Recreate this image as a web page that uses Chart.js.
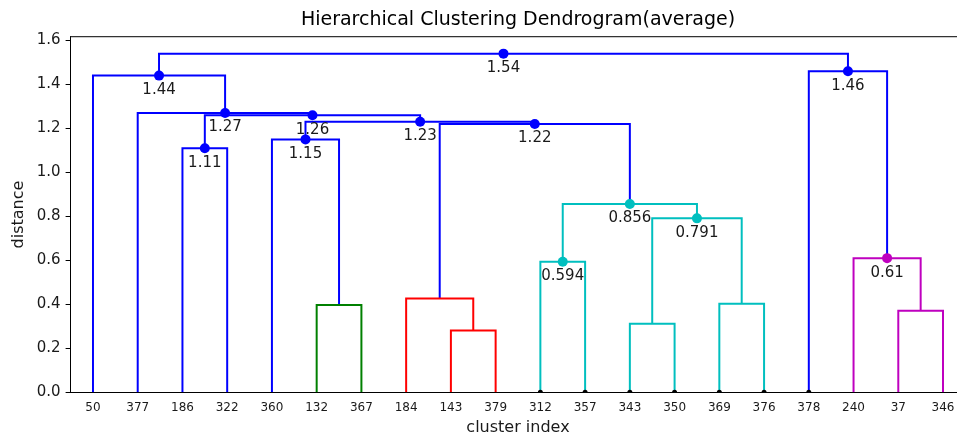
<!DOCTYPE html>
<html>
<head>
<meta charset="utf-8">
<script src="https://cdn.jsdelivr.net/npm/chart.js@4.4.1/dist/chart.umd.min.js"></script>
<style>
  html, body { margin: 0; padding: 0; background: #fff; overflow: hidden; }
  #wrap { position: absolute; left: 0; top: 0; width: 980px; height: 435px; }
</style>
</head>
<body>
<div id="wrap"><canvas id="dendro"></canvas></div>
<script>
// Leaves in plotted order (original sample index of each leaf)
const leafLabels = ['50', '377', '186', '322', '360', '132', '367', '184', '143', '379',
                    '312', '357', '343', '350', '369', '376', '378', '240', '37', '346'];

// Linkage: child ids joined by each merge (ids < 20 are leaves, id 20+k is merge k)
const mergePairs = [
  [5, 6], [8, 9], [7, 21], [12, 13], [18, 19], [14, 15], [10, 11], [17, 24],
  [23, 25], [26, 28], [2, 3], [4, 20], [22, 29], [31, 32], [30, 33], [1, 34],
  [0, 35], [16, 27], [36, 37]
];
// Distance at which each merge happens
const mergeHeights = [
  0.397, 0.281, 0.427, 0.312, 0.371, 0.403, 0.594, 0.61,
  0.791, 0.856, 1.11, 1.15, 1.22, 1.23, 1.26, 1.27,
  1.44, 1.46, 1.54
];

// Leaves that carry a contracted-node marker, and the marker heights
const contractedLeaves = ['312', '357', '343', '350', '369', '376', '378'];
const contractedHeights = [0, 0, 0, 0, 0, 0, 0];

const yTicks = [0, 0.2, 0.4, 0.6, 0.8, 1.0, 1.2, 1.4, 1.6];

const annotateAbove = 0.5;
const palette = ['#008000', '#ff0000', '#00bfbf', '#bf00bf'];
const aboveColor = '#0000ff';
const FONT = 'DejaVu Sans';

// ---- tree layout: leaves at 5, 15, 25, ... (10 units apart) ----
const nLeaves = leafLabels.length;
const nodeX = leafLabels.map((_, i) => 5 + 10 * i);
const nodeY = leafLabels.map(() => 0);
mergePairs.forEach(([a, b], k) => {
  nodeX.push((nodeX[a] + nodeX[b]) / 2);
  nodeY.push(mergeHeights[k]);
});

// ---- colouring: clusters below 70% of the top distance get their own colour ----
const threshold = 0.7 * Math.max(...mergeHeights);
const linkColor = new Array(mergePairs.length).fill(aboveColor);
let nextColor = 0;
function paint(id, color) {
  if (id < nLeaves) return;
  const k = id - nLeaves;
  linkColor[k] = color;
  paint(mergePairs[k][0], color);
  paint(mergePairs[k][1], color);
}
function walk(id) {
  if (id < nLeaves) return;
  const k = id - nLeaves;
  if (mergeHeights[k] < threshold) {
    paint(id, palette[nextColor++ % palette.length]);
    return;
  }
  linkColor[k] = aboveColor;
  walk(mergePairs[k][0]);
  walk(mergePairs[k][1]);
}
walk(nLeaves + mergePairs.length - 1);

// ---- datasets ----
const linkSets = mergePairs.map(([a, b], k) => ({
  data: [
    { x: nodeX[a], y: nodeY[a] },
    { x: nodeX[a], y: mergeHeights[k] },
    { x: nodeX[b], y: mergeHeights[k] },
    { x: nodeX[b], y: nodeY[b] }
  ],
  showLine: true,
  borderColor: linkColor[k],
  borderWidth: 2,
  pointRadius: 0,
  tension: 0,
  fill: false,
  order: 3
}));

const annotated = mergePairs.map((_, k) => k).filter(k => mergeHeights[k] > annotateAbove);
const markerSet = {
  data: annotated.map(k => ({ x: nodeX[nLeaves + k], y: mergeHeights[k] })),
  pointRadius: 5,
  pointBackgroundColor: annotated.map(k => linkColor[k]),
  pointBorderColor: annotated.map(k => linkColor[k]),
  pointBorderWidth: 0,
  order: 1
};

const contractedSet = {
  data: contractedLeaves.map((lab, i) => ({ x: nodeX[leafLabels.indexOf(lab)], y: contractedHeights[i] })),
  pointRadius: 2.5,
  pointBackgroundColor: '#000',
  pointBorderWidth: 0,
  order: 2
};

// value labels under the merge markers
const mergeLabels = {
  id: 'mergeLabels',
  afterDatasetsDraw(chart) {
    const { ctx, scales: { x, y } } = chart;
    ctx.save();
    ctx.font = '15px "' + FONT + '"';
    ctx.fillStyle = '#1a1a1a';
    ctx.textAlign = 'center';
    ctx.textBaseline = 'top';
    annotated.forEach(k => {
      const px = x.getPixelForValue(nodeX[nLeaves + k]);
      const py = y.getPixelForValue(mergeHeights[k]) + 7;
      ctx.fillText(String(Number(mergeHeights[k].toPrecision(3))), px, py);
    });
    ctx.restore();
  }
};

// top edge of the axes frame
const frame = {
  id: 'frame',
  afterDraw(chart) {
    const { ctx, chartArea: a } = chart;
    ctx.save();
    ctx.strokeStyle = '#333';
    ctx.lineWidth = 1.3;
    ctx.beginPath();
    ctx.moveTo(a.left, a.top);
    ctx.lineTo(a.right, a.top);
    ctx.stroke();
    ctx.restore();
  }
};

Chart.defaults.font.family = FONT;

new Chart(document.getElementById('dendro'), {
  type: 'scatter',
  data: { datasets: [...linkSets, contractedSet, markerSet] },
  plugins: [mergeLabels, frame],
  options: {
    responsive: true,
    maintainAspectRatio: false,
    devicePixelRatio: 1,
    animation: false,
    layout: { padding: { left: 0, right: 14.6, top: 0, bottom: 0 } },
    plugins: {
      legend: { display: false },
      tooltip: { enabled: false },
      title: {
        display: true,
        text: 'Hierarchical Clustering Dendrogram(average)',
        fullSize: false,
        color: '#000',
        font: { family: FONT, size: 19, weight: 'normal', lineHeight: 1.2 },
        padding: { top: 9, bottom: 4.9 }
      }
    },
    scales: {
      x: {
        type: 'linear',
        min: 0,
        max: 10 * nLeaves,
        afterBuildTicks: s => { s.ticks = leafLabels.map((_, i) => ({ value: nodeX[i] })); },
        afterFit: s => { s.height = 42.7; },
        ticks: {
          autoSkip: false,
          maxRotation: 0,
          minRotation: 0,
          padding: 8,
          color: '#1a1a1a',
          font: { family: FONT, size: 12 },
          callback: (v, i) => leafLabels[i]
        },
        grid: { drawOnChartArea: false, drawTicks: false },
        border: { display: true, color: '#000', width: 1 },
        title: {
          display: true,
          text: 'cluster index',
          color: '#1a1a1a',
          font: { family: FONT, size: 16, lineHeight: 1 },
          padding: { top: 0, bottom: -1 }
        }
      },
      y: {
        type: 'linear',
        min: 0,
        max: 1.617,
        afterBuildTicks: s => { s.ticks = yTicks.map(v => ({ value: v })); },
        afterFit: s => { s.width = 70.6; },
        ticks: {
          padding: 5,
          color: '#1a1a1a',
          font: { family: FONT, size: 15 },
          callback: v => v.toFixed(1)
        },
        grid: { drawOnChartArea: false, drawTicks: true, tickLength: 5, color: '#000' },
        border: { display: true, color: '#000', width: 1 },
        title: {
          display: true,
          text: 'distance',
          color: '#1a1a1a',
          font: { family: FONT, size: 16, lineHeight: 1 },
          padding: { top: 11, bottom: 0 }
        }
      }
    }
  }
});
</script>
</body>
</html>
